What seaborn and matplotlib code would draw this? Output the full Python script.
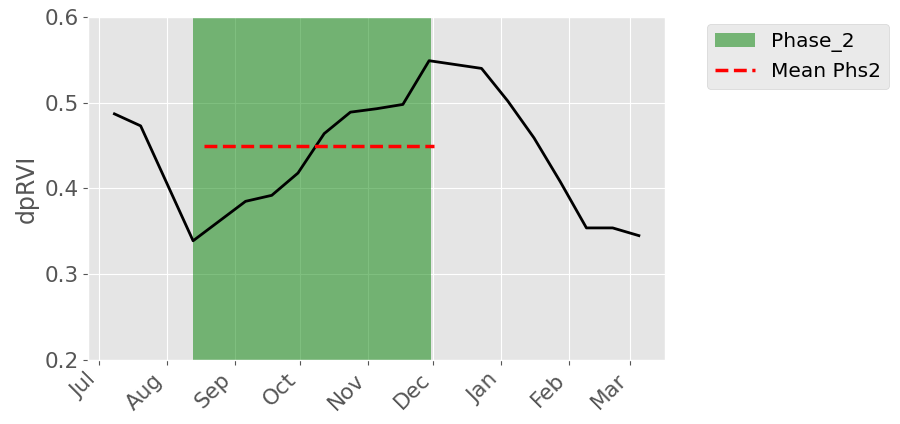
import matplotlib
matplotlib.use("Agg")
import matplotlib.pyplot as plt
import matplotlib.dates as mdates
import pandas as pd
import seaborn as sns

dates = ["2020-07-08", "2020-07-20", "2020-08-13", "2020-09-06", "2020-09-18",
         "2020-09-30", "2020-10-12", "2020-10-24", "2020-11-05", "2020-11-17",
         "2020-11-29", "2020-12-23", "2021-01-04", "2021-01-16", "2021-01-28",
         "2021-02-09", "2021-02-21", "2021-03-05"]
dprvi = [0.487, 0.473, 0.339, 0.385, 0.392, 0.418, 0.464, 0.489, 0.493, 0.498,
         0.549, 0.540, 0.502, 0.459, 0.408, 0.354, 0.354, 0.345]

phase_start = "2020-08-13"
phase_end = "2020-11-30"
mean_phs2 = 0.45

df = pd.DataFrame({"date": pd.to_datetime(dates), "dpRVI": dprvi})

plt.style.use("ggplot")
fig = plt.figure(figsize=(9, 4.24), dpi=100)
ax = fig.add_axes([0.098, 0.151, 0.641, 0.809])

sns.lineplot(data=df, x="date", y="dpRVI", color="black", linewidth=2, ax=ax)
ax.axvspan(pd.Timestamp(phase_start), pd.Timestamp(phase_end), color="green",
           alpha=0.5, lw=0, label="Phase_2")
ax.axhline(mean_phs2, xmin=0.2, xmax=0.6, color="red", ls="--", lw=2.5,
           label="Mean Phs2")

ax.set_ylim(0.2, 0.6)
ax.set_yticks([0.2, 0.3, 0.4, 0.5, 0.6])
ax.yaxis.set_major_formatter(plt.FormatStrFormatter("%.1f"))
ax.xaxis.set_major_locator(mdates.MonthLocator())
ax.xaxis.set_major_formatter(mdates.DateFormatter("%b"))
ax.set_xlabel("")
ax.set_ylabel("dpRVI", fontsize=17)
ax.tick_params(axis="both", labelsize=15.5)
plt.setp(ax.get_xticklabels(), rotation=45, ha="right")

ax.legend(loc="upper left", bbox_to_anchor=(1.055, 1.01), fontsize=14.5)

fig.savefig("out.png", dpi=100)
